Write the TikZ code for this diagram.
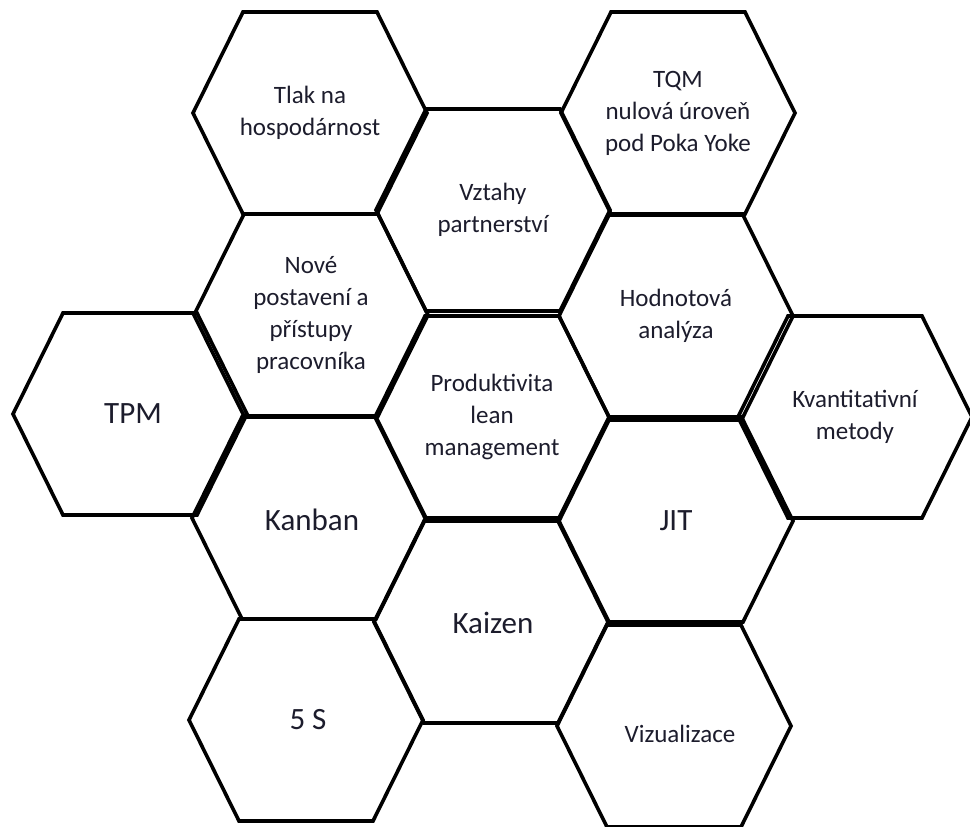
\documentclass[tikz,border=0pt]{standalone}
\usepackage{fontspec}
\setmainfont{Carlito}
\definecolor{labelink}{RGB}{28,28,44}
\tikzset{
  hexline/.style={line width=3.6pt, line join=miter},
  hexcell/.pic={\draw[hexline] (-117,0) -- (-67,-101) -- (67,-101) -- (117,0) -- (67,101) -- (-67,101) -- cycle;},
  smalltext/.style={align=center, text=labelink, font=\fontsize{25}{32}\selectfont},
  bigtext/.style={align=center, text=labelink, font=\fontsize{31}{37}\selectfont},
}
\begin{document}
\begin{tikzpicture}[x=1pt,y=-1pt]
\useasboundingbox (0,0) rectangle (970,827);
% honeycomb cells
\pic at (310,113) {hexcell};
\pic at (493,210) {hexcell};
\pic at (678,113) {hexcell};
\pic at (311,315) {hexcell};
\pic at (676,316) {hexcell};
\pic at (130,414) {hexcell};
\pic at (492,417) {hexcell};
\pic at (855,417) {hexcell};
\pic at (309,518) {hexcell};
\pic at (676,521) {hexcell};
\pic at (491,622) {hexcell};
\pic at (306,720) {hexcell};
\pic at (674,726) {hexcell};
% labels
\node[smalltext] (tlak) at (310,113) {Tlak na\\hospodárnost};
\node[smalltext] (vztahy) at (493,210) {Vztahy\\partnerství};
\node[smalltext] (tqm) at (678,113) {TQM\\nulová úroveň\\pod Poka Yoke};
\node[smalltext] (nove) at (311,315) {Nové\\postavení a\\přístupy\\pracovníka};
\node[smalltext] (hodnot) at (676,316) {Hodnotová\\analýza};
\node[bigtext] (tpm) at (133,414) {TPM};
\node[smalltext] (produkt) at (492,417) {Produktivita\\lean\\management};
\node[smalltext] (kvant) at (855,417) {Kvantitativní\\metody};
\node[bigtext] (kanban) at (312,520) {Kanban};
\node[bigtext] (jit) at (676,521) {JIT};
\node[bigtext] (kaizen) at (493,623) {Kaizen};
\node[bigtext] (fives) at (308,720) {5 S};
\node[smalltext] (vizual) at (680,734) {Vizualizace};
\end{tikzpicture}
\end{document}
